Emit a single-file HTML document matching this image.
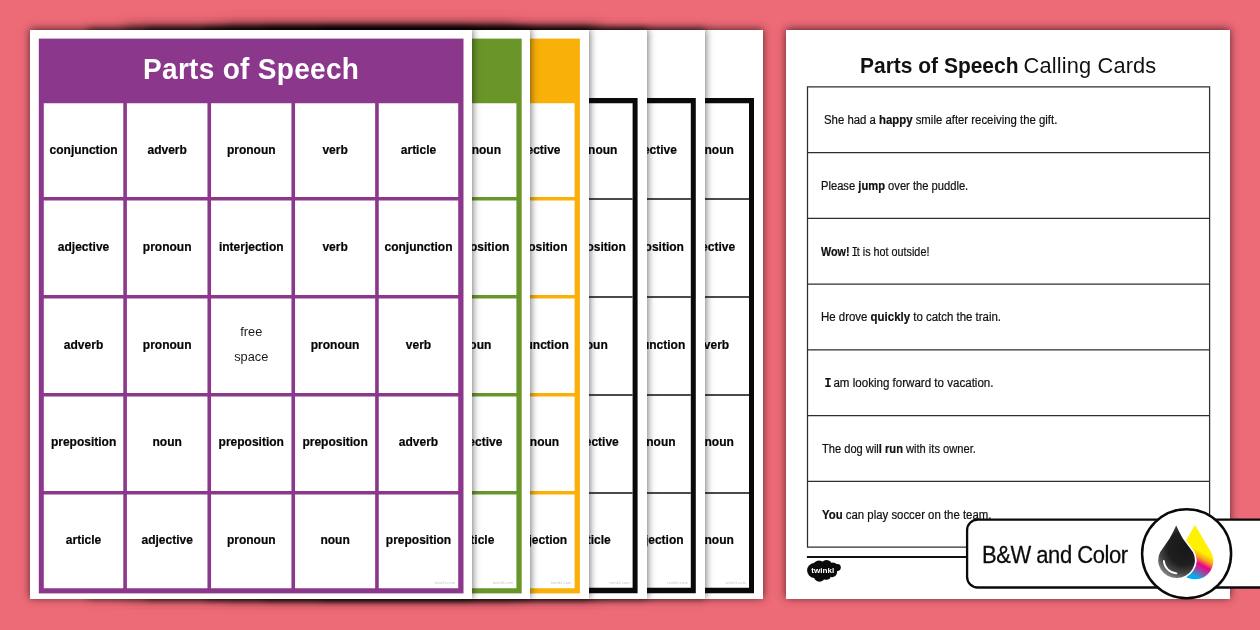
<!DOCTYPE html>
<html><head><meta charset="utf-8"><title>Parts of Speech</title>
<style>
html,body{margin:0;padding:0}
body{width:1260px;height:630px;overflow:hidden;position:relative;background:#ed6a77;font-family:"Liberation Sans",sans-serif;color:#111}
.pg{position:absolute;background:#fff;box-shadow:0 -1.2px 8px rgba(0,0,0,.66)}
.g{position:absolute;left:0;top:0;display:block}
.ss{position:absolute;top:30px;height:569px;box-shadow:0 -3px 12px rgba(0,0,0,.5)}
.ttl{position:absolute;height:64.6px;line-height:60.6px;text-align:center;color:#fff;font-weight:bold;font-size:28px;transform:scaleY(1.05);transform-origin:50% 38.7%;letter-spacing:0.3px}
.c{position:absolute;display:flex;align-items:center;justify-content:center;text-align:center}
.w{font-weight:bold;font-size:12px;position:relative;color:#050505;-webkit-text-stroke:0.2px #050505}
.fs{font-size:12.8px;line-height:25px;position:relative;top:-1.6px;color:#1c1c1c}
.wm{position:absolute;font-size:4px;color:#c6c6c6;line-height:4px;width:23px;text-align:right;letter-spacing:0.2px}
.dt{position:absolute;left:0;width:100%;top:20.3px;height:30px;white-space:pre}
.dt b{position:absolute;left:73.9px;top:0;font-size:21.8px;line-height:30px;transform:scale(0.962,1.05);transform-origin:0 7px}
.dt span{position:absolute;left:237.6px;top:0;font-size:21.8px;line-height:30px;letter-spacing:0.15px;transform:scaleY(1.05);transform-origin:0 7px}
.pg,.bw2{will-change:transform}
.sn{position:absolute;white-space:pre;font-size:12.5px;-webkit-text-stroke:0.22px #111;display:block;color:#111;transform-origin:0 50%}
.sn b{font-weight:bold}
.sn i{font-style:normal;font-family:"Liberation Mono",monospace;margin:0 -1.4px 0 -1.3px}
.bdg{position:absolute;left:0;top:0}
.bw2{position:absolute;left:0;top:0;width:1260px;height:630px}
.bt{position:absolute;left:982px;top:539.5px;font-size:22px;line-height:32px;letter-spacing:-0.47px;transform:scaleY(1.07);transform-origin:0 24px;color:#0c0c0c;-webkit-text-stroke:0.25px #0c0c0c;white-space:pre}
</style></head>
<body>
<div class="ss" style="left:125px;width:475px"></div><div class="ss" style="left:225px;width:290px"></div>
<div class="pg" style="left:321px;top:30px;width:442px;height:569px">
<svg class="g" width="442" height="569" viewBox="321 30 442 569"><path fill-rule="evenodd" fill="#0a0a0a" d="M329.8 98.05H754V593.3H329.8zM334.8 103.3V587.8H749V103.3z"/><path d="M639 199H749M639 297H749M639 395H749M639 493H749M667.95 103.3V587.8" stroke="#111" stroke-width="1.3" fill="none"/></svg>
<div class="c" style="left:348.75px;top:73.2px;width:79.45px;height:93.9px"><span class="w" style="top:-0.5px">pronoun</span></div>
<div class="c" style="left:348.75px;top:170.5px;width:79.45px;height:94.6px"><span class="w" style="top:-0.4px">adjective</span></div>
<div class="c" style="left:348.75px;top:268.5px;width:79.45px;height:94.6px"><span class="w" style="top:-1.0px">adverb</span></div>
<div class="c" style="left:348.75px;top:366.5px;width:79.45px;height:94.6px"><span class="w" style="top:-1.5px">pronoun</span></div>
<div class="c" style="left:348.75px;top:464.5px;width:79.45px;height:93.7px"><span class="w" style="top:-1.2px">pronoun</span></div>
<div class="wm" style="left:402.2px;top:550.7px">twinkl.com</div>
</div>
<div class="pg" style="left:263px;top:30px;width:442px;height:569px">
<svg class="g" width="442" height="569" viewBox="263 30 442 569"><path fill-rule="evenodd" fill="#0a0a0a" d="M271.6 98.05H695.8V593.3H271.6zM276.6 103.3V587.8H690.8V103.3z"/><path d="M580.8 199H690.8M580.8 297H690.8M580.8 395H690.8M580.8 493H690.8M609.75 103.3V587.8" stroke="#111" stroke-width="1.3" fill="none"/></svg>
<div class="c" style="left:348.55px;top:73.2px;width:79.45px;height:93.9px"><span class="w" style="top:-0.5px">adjective</span></div>
<div class="c" style="left:348.55px;top:170.5px;width:79.45px;height:94.6px"><span class="w" style="top:-0.4px">preposition</span></div>
<div class="c" style="left:348.55px;top:268.5px;width:79.45px;height:94.6px"><span class="w" style="top:-1.0px">conjunction</span></div>
<div class="c" style="left:348.55px;top:366.5px;width:79.45px;height:94.6px"><span class="w" style="top:-1.5px">pronoun</span></div>
<div class="c" style="left:348.55px;top:464.5px;width:79.45px;height:93.7px"><span class="w" style="top:-1.2px">interjection</span></div>
<div class="wm" style="left:402px;top:550.7px">twinkl.com</div>
</div>
<div class="pg" style="left:205px;top:30px;width:442px;height:569px">
<svg class="g" width="442" height="569" viewBox="205 30 442 569"><path fill-rule="evenodd" fill="#0a0a0a" d="M213.4 98.05H637.6V593.3H213.4zM218.4 103.3V587.8H632.6V103.3z"/><path d="M522.6 199H632.6M522.6 297H632.6M522.6 395H632.6M522.6 493H632.6M551.55 103.3V587.8" stroke="#111" stroke-width="1.3" fill="none"/></svg>
<div class="c" style="left:348.35px;top:73.2px;width:79.45px;height:93.9px"><span class="w" style="top:-0.5px">pronoun</span></div>
<div class="c" style="left:348.35px;top:170.5px;width:79.45px;height:94.6px"><span class="w" style="top:-0.4px">preposition</span></div>
<div class="c" style="left:348.35px;top:268.5px;width:79.45px;height:94.6px"><span class="w" style="top:-1.0px">noun</span></div>
<div class="c" style="left:348.35px;top:366.5px;width:79.45px;height:94.6px"><span class="w" style="top:-1.5px">adjective</span></div>
<div class="c" style="left:348.35px;top:464.5px;width:79.45px;height:93.7px"><span class="w" style="top:-1.2px">article</span></div>
<div class="wm" style="left:401.8px;top:550.7px">twinkl.com</div>
</div>
<div class="pg" style="left:146px;top:30px;width:443px;height:569px">
<svg class="g" width="443" height="569" viewBox="146 30 443 569"><rect x="155.2" y="38.6" width="424.7" height="554.8" fill="#f9b008"/><path d="M495.15 103.2H574.6V197.1H495.15zM495.15 200.5H574.6V295.1H495.15zM495.15 298.5H574.6V393.1H495.15zM495.15 396.5H574.6V491.1H495.15zM495.15 494.5H574.6V588.2H495.15z" fill="#fff"/></svg>
<div class="c" style="left:349.15px;top:73.2px;width:79.45px;height:93.9px"><span class="w" style="top:-0.5px">adjective</span></div>
<div class="c" style="left:349.15px;top:170.5px;width:79.45px;height:94.6px"><span class="w" style="top:-0.4px">preposition</span></div>
<div class="c" style="left:349.15px;top:268.5px;width:79.45px;height:94.6px"><span class="w" style="top:-1.0px">conjunction</span></div>
<div class="c" style="left:349.15px;top:366.5px;width:79.45px;height:94.6px"><span class="w" style="top:-1.5px">pronoun</span></div>
<div class="c" style="left:349.15px;top:464.5px;width:79.45px;height:93.7px"><span class="w" style="top:-1.2px">interjection</span></div>
<div class="wm" style="left:402.6px;top:550.7px">twinkl.com</div>
</div>
<div class="pg" style="left:88px;top:30px;width:442px;height:569px">
<svg class="g" width="442" height="569" viewBox="88 30 442 569"><rect x="97" y="38.6" width="424.7" height="554.8" fill="#6a9629"/><path d="M436.95 103.2H516.4V197.1H436.95zM436.95 200.5H516.4V295.1H436.95zM436.95 298.5H516.4V393.1H436.95zM436.95 396.5H516.4V491.1H436.95zM436.95 494.5H516.4V588.2H436.95z" fill="#fff"/></svg>
<div class="c" style="left:348.95px;top:73.2px;width:79.45px;height:93.9px"><span class="w" style="top:-0.5px">pronoun</span></div>
<div class="c" style="left:348.95px;top:170.5px;width:79.45px;height:94.6px"><span class="w" style="top:-0.4px">preposition</span></div>
<div class="c" style="left:348.95px;top:268.5px;width:79.45px;height:94.6px"><span class="w" style="top:-1.0px">noun</span></div>
<div class="c" style="left:348.95px;top:366.5px;width:79.45px;height:94.6px"><span class="w" style="top:-1.5px">adjective</span></div>
<div class="c" style="left:348.95px;top:464.5px;width:79.45px;height:93.7px"><span class="w" style="top:-1.2px">article</span></div>
<div class="wm" style="left:402.4px;top:550.7px">twinkl.com</div>
</div>
<div class="pg" style="left:30px;top:30px;width:442px;height:569px">
<svg class="g" width="442" height="569" viewBox="30 30 442 569"><rect x="38.8" y="38.6" width="424.7" height="554.8" fill="#8b378c"/><path d="M43.8 103.2H123.3V197.1H43.8zM126.9 103.2H207.45V197.1H126.9zM211.05 103.2H291.45V197.1H211.05zM295.05 103.2H375.15V197.1H295.05zM378.75 103.2H458.2V197.1H378.75zM43.8 200.5H123.3V295.1H43.8zM126.9 200.5H207.45V295.1H126.9zM211.05 200.5H291.45V295.1H211.05zM295.05 200.5H375.15V295.1H295.05zM378.75 200.5H458.2V295.1H378.75zM43.8 298.5H123.3V393.1H43.8zM126.9 298.5H207.45V393.1H126.9zM211.05 298.5H291.45V393.1H211.05zM295.05 298.5H375.15V393.1H295.05zM378.75 298.5H458.2V393.1H378.75zM43.8 396.5H123.3V491.1H43.8zM126.9 396.5H207.45V491.1H126.9zM211.05 396.5H291.45V491.1H211.05zM295.05 396.5H375.15V491.1H295.05zM378.75 396.5H458.2V491.1H378.75zM43.8 494.5H123.3V588.2H43.8zM126.9 494.5H207.45V588.2H126.9zM211.05 494.5H291.45V588.2H211.05zM295.05 494.5H375.15V588.2H295.05zM378.75 494.5H458.2V588.2H378.75z" fill="#fff"/></svg>
<div class="ttl" style="left:8.8px;top:8.6px;width:424.7px">Parts of Speech</div>
<div class="c" style="left:13.8px;top:73.2px;width:79.5px;height:93.9px"><span class="w" style="top:-0.5px">conjunction</span></div>
<div class="c" style="left:96.9px;top:73.2px;width:80.55px;height:93.9px"><span class="w" style="top:-0.5px">adverb</span></div>
<div class="c" style="left:181.05px;top:73.2px;width:80.4px;height:93.9px"><span class="w" style="top:-0.5px">pronoun</span></div>
<div class="c" style="left:265.05px;top:73.2px;width:80.1px;height:93.9px"><span class="w" style="top:-0.5px">verb</span></div>
<div class="c" style="left:348.75px;top:73.2px;width:79.45px;height:93.9px"><span class="w" style="top:-0.5px">article</span></div>
<div class="c" style="left:13.8px;top:170.5px;width:79.5px;height:94.6px"><span class="w" style="top:-0.4px">adjective</span></div>
<div class="c" style="left:96.9px;top:170.5px;width:80.55px;height:94.6px"><span class="w" style="top:-0.4px">pronoun</span></div>
<div class="c" style="left:181.05px;top:170.5px;width:80.4px;height:94.6px"><span class="w" style="top:-0.4px">interjection</span></div>
<div class="c" style="left:265.05px;top:170.5px;width:80.1px;height:94.6px"><span class="w" style="top:-0.4px">verb</span></div>
<div class="c" style="left:348.75px;top:170.5px;width:79.45px;height:94.6px"><span class="w" style="top:-0.4px">conjunction</span></div>
<div class="c" style="left:13.8px;top:268.5px;width:79.5px;height:94.6px"><span class="w" style="top:-1.0px">adverb</span></div>
<div class="c" style="left:96.9px;top:268.5px;width:80.55px;height:94.6px"><span class="w" style="top:-1.0px">pronoun</span></div>
<div class="c" style="left:181.05px;top:268.5px;width:80.4px;height:94.6px"><span class="fs">free<br>space</span></div>
<div class="c" style="left:265.05px;top:268.5px;width:80.1px;height:94.6px"><span class="w" style="top:-1.0px">pronoun</span></div>
<div class="c" style="left:348.75px;top:268.5px;width:79.45px;height:94.6px"><span class="w" style="top:-1.0px">verb</span></div>
<div class="c" style="left:13.8px;top:366.5px;width:79.5px;height:94.6px"><span class="w" style="top:-1.5px">preposition</span></div>
<div class="c" style="left:96.9px;top:366.5px;width:80.55px;height:94.6px"><span class="w" style="top:-1.5px">noun</span></div>
<div class="c" style="left:181.05px;top:366.5px;width:80.4px;height:94.6px"><span class="w" style="top:-1.5px">preposition</span></div>
<div class="c" style="left:265.05px;top:366.5px;width:80.1px;height:94.6px"><span class="w" style="top:-1.5px">preposition</span></div>
<div class="c" style="left:348.75px;top:366.5px;width:79.45px;height:94.6px"><span class="w" style="top:-1.5px">adverb</span></div>
<div class="c" style="left:13.8px;top:464.5px;width:79.5px;height:93.7px"><span class="w" style="top:-1.2px">article</span></div>
<div class="c" style="left:96.9px;top:464.5px;width:80.55px;height:93.7px"><span class="w" style="top:-1.2px">adjective</span></div>
<div class="c" style="left:181.05px;top:464.5px;width:80.4px;height:93.7px"><span class="w" style="top:-1.2px">pronoun</span></div>
<div class="c" style="left:265.05px;top:464.5px;width:80.1px;height:93.7px"><span class="w" style="top:-1.2px">noun</span></div>
<div class="c" style="left:348.75px;top:464.5px;width:79.45px;height:93.7px"><span class="w" style="top:-1.2px">preposition</span></div>
<div class="wm" style="left:402.2px;top:550.7px">twinkl.com</div>
</div>
<div class="pg" style="left:786px;top:30px;width:444px;height:569px">
<svg class="g" width="444" height="569" viewBox="786 30 444 569"><path d="M807.5 86.9H1209.6V547.22H807.5zM807.5 152.66H1209.6M807.5 218.42H1209.6M807.5 284.18H1209.6M807.5 349.94H1209.6M807.5 415.7H1209.6M807.5 481.46H1209.6" stroke="#2e2e2e" stroke-width="1.25" fill="none"/><path d="M806.9 557H1210.2" stroke="#111" stroke-width="1.8" fill="none"/><g transform="translate(806 559)"><g fill="#0a0a0a"><ellipse cx="16" cy="11.5" rx="12" ry="7"/><circle cx="8.5" cy="11.5" r="7.4"/><circle cx="13" cy="7.6" r="6"/><circle cx="20.5" cy="7" r="6"/><circle cx="27" cy="9" r="5.4"/><circle cx="31.4" cy="8.5" r="3.4"/><circle cx="26" cy="13.2" r="5"/><circle cx="13.5" cy="17" r="5.8"/><circle cx="20" cy="15.3" r="5.5"/></g><text x="16.8" y="14.4" font-family="Liberation Sans, sans-serif" font-weight="bold" font-size="8" fill="#fff" text-anchor="middle" textLength="23" lengthAdjust="spacingAndGlyphs">twinkl</text></g></svg>
<div class="dt"><b>Parts of Speech</b><span>Calling Cards</span></div>
<div class="sn" style="left:37.8px;top:58.1px;height:65.76px;line-height:65.76px;transform:scaleX(0.9100)">She had a <b>happy</b> smile after receiving the gift.</div>
<div class="sn" style="left:34.7px;top:123.86px;height:65.76px;line-height:65.76px;transform:scaleX(0.8940)">Please <b>jump</b> over the puddle.</div>
<div class="sn" style="left:35.3px;top:189.62px;height:65.76px;line-height:65.76px;transform:scaleX(0.8637)"><b>Wow!</b> <i>I</i>t is hot outside!</div>
<div class="sn" style="left:34.7px;top:255.38px;height:65.76px;line-height:65.76px;transform:scaleX(0.9153)">He drove <b>quickly</b> to catch the train.</div>
<div class="sn" style="left:37.8px;top:321.14px;height:65.76px;line-height:65.76px;transform:scaleX(0.9252)"><b><i style="margin-left:0.6px">I</i></b> am looking forward to vacation.</div>
<div class="sn" style="left:35.5px;top:386.9px;height:65.76px;line-height:65.76px;transform:scaleX(0.8890)">The dog wil<b>l run</b> with its owner.</div>
<div class="sn" style="left:35.6px;top:452.66px;height:65.76px;line-height:65.76px;transform:scaleX(0.9108)"><b>You</b> can play soccer on the team.</div>
</div>
<svg class="bdg" width="1260" height="630" viewBox="0 0 1260 630">
<defs>
<linearGradient id="cmy" gradientUnits="userSpaceOnUse" x1="54.2" y1="16.9" x2="30.2" y2="60.7">
<stop offset="0" stop-color="#fff100"/><stop offset="0.41" stop-color="#fff100"/><stop offset="0.52" stop-color="#f9a11b"/><stop offset="0.64" stop-color="#ec008c"/><stop offset="0.78" stop-color="#8a55a8"/><stop offset="0.90" stop-color="#00aeef"/><stop offset="1" stop-color="#00aeef"/>
</linearGradient>
<radialGradient id="bk" gradientUnits="userSpaceOnUse" cx="44" cy="40" r="33"><stop offset="0" stop-color="#171717"/><stop offset="0.52" stop-color="#1f1f1f"/><stop offset="0.76" stop-color="#444"/><stop offset="1" stop-color="#8c8c8c"/></radialGradient>
</defs>
<rect x="967.1" y="519.7" width="330" height="67.8" rx="10.5" ry="10.5" fill="#fff" stroke="#0a0a0a" stroke-width="2.3"/>
<circle cx="1186.6" cy="553.7" r="44.5" fill="#fff" stroke="#0a0a0a" stroke-width="2.5"/>
<g transform="translate(1140.8 508.2)">
<path d="M54.2 16.9 L69.95 43.5 A18.3 18.3 0 1 1 38.45 43.5 Z" fill="url(#cmy)"/>
<path d="M35.4 17.3 Q38.6 24.5 42 30.2 L52.2 44 A18.45 17.7 0 1 1 19.3 44 L28.8 30.2 Q32.2 24.5 35.4 17.3 Z" fill="#fff" stroke="#fff" stroke-width="3.2" stroke-linejoin="round"/>
<path d="M35.4 17.3 Q38.6 24.5 42 30.2 L52.2 44 A18.45 17.7 0 1 1 19.3 44 L28.8 30.2 Q32.2 24.5 35.4 17.3 Z" fill="url(#bk)"/>
<path d="M23 52.6 C23.6 59.5 28.5 64.4 35.6 65.2" fill="none" stroke="#fff" stroke-width="1.8" stroke-linecap="round"/>
</g>
</svg>
<div class="bw2"><div class="bt">B&amp;W and Color</div></div>

</body></html>
